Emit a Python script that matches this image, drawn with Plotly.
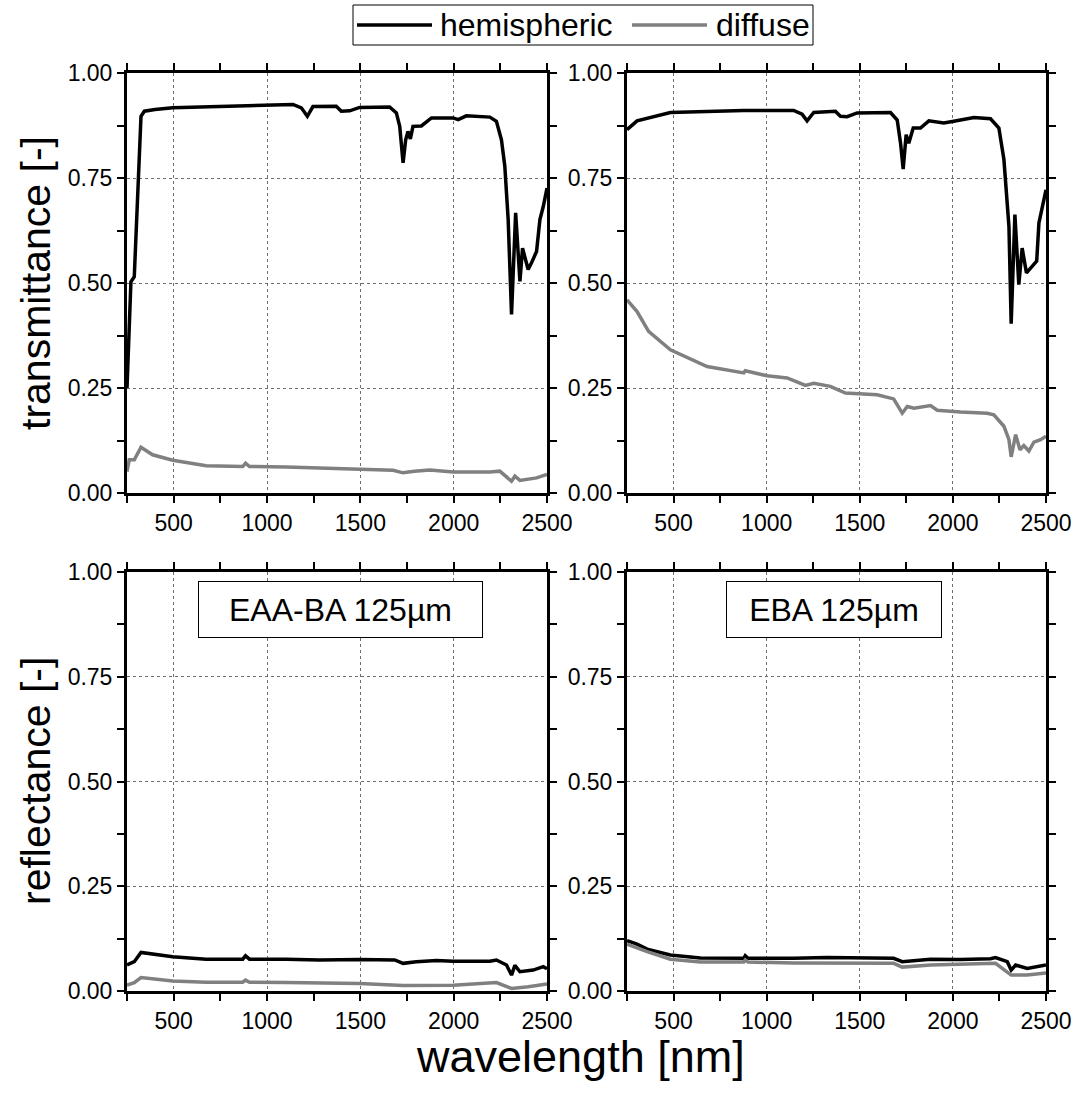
import plotly.graph_objects as go

# ---------------- data ----------------
# EAA-BA 125um, transmittance
wl_T1_hemi = [250, 271, 289, 325, 343, 400, 495, 700, 996, 1139, 1184, 1216, 1246, 1371, 1398, 1443, 1496,
              1657, 1693, 1711, 1729, 1743, 1755, 1768, 1782, 1827, 1881, 1997, 2024, 2068, 2194, 2229,
              2256, 2274, 2292, 2310, 2332, 2355, 2369, 2380, 2399, 2417, 2444, 2462, 2480, 2500]
T1_hemi = [0.25, 0.503, 0.515, 0.897, 0.909, 0.913, 0.917, 0.919, 0.922, 0.925, 0.917, 0.897, 0.920, 0.921,
           0.909, 0.910, 0.918, 0.919, 0.905, 0.873, 0.786, 0.841, 0.861, 0.843, 0.873, 0.874, 0.893, 0.893,
           0.889, 0.898, 0.895, 0.885, 0.841, 0.778, 0.651, 0.425, 0.667, 0.504, 0.583, 0.565, 0.532, 0.548,
           0.575, 0.651, 0.682, 0.726]
wl_T1_diff = [250, 262, 289, 325, 387, 495, 674, 870, 885, 906, 1103, 1282, 1496, 1675, 1729, 1790, 1872,
              1997, 2194, 2247, 2310, 2328, 2355, 2400, 2444, 2500]
T1_diff = [0.051, 0.079, 0.079, 0.109, 0.091, 0.078, 0.065, 0.063, 0.071, 0.063, 0.062, 0.059, 0.055, 0.054,
           0.048, 0.052, 0.055, 0.050, 0.050, 0.052, 0.028, 0.040, 0.030, 0.034, 0.036, 0.044]

# EBA 125um, transmittance
wl_T2_hemi = [250, 304, 483, 877, 1145, 1190, 1217, 1253, 1369, 1396, 1432, 1486, 1665, 1701, 1719, 1733,
              1749, 1763, 1787, 1826, 1871, 1951, 2005, 2113, 2202, 2247, 2274, 2301, 2313, 2333, 2354, 2372,
              2395, 2435, 2450, 2462, 2480, 2500]
T2_hemi = [0.865, 0.886, 0.906, 0.911, 0.911, 0.902, 0.886, 0.906, 0.909, 0.897, 0.896, 0.905, 0.906, 0.888,
           0.833, 0.771, 0.853, 0.833, 0.869, 0.869, 0.886, 0.881, 0.885, 0.894, 0.891, 0.869, 0.794, 0.635,
           0.403, 0.663, 0.496, 0.583, 0.524, 0.545, 0.552, 0.643, 0.682, 0.722]
wl_T2_diff = [250, 304, 366, 483, 680, 877, 885, 1002, 1110, 1208, 1253, 1342, 1423, 1593, 1682, 1728, 1755,
              1791, 1880, 1916, 2041, 2184, 2220, 2274, 2301, 2313, 2337, 2360, 2381, 2408, 2435, 2471, 2500]
T2_diff = [0.460, 0.432, 0.385, 0.341, 0.301, 0.286, 0.291, 0.279, 0.274, 0.256, 0.261, 0.254, 0.238, 0.234,
           0.224, 0.190, 0.206, 0.202, 0.208, 0.197, 0.193, 0.190, 0.186, 0.159, 0.127, 0.086, 0.139, 0.103,
           0.113, 0.100, 0.121, 0.127, 0.135]

# EAA-BA 125um, reflectance
wl_R1_hemi = [250, 270, 289, 325, 495, 674, 870, 885, 906, 1103, 1282, 1496, 1684, 1729, 1800, 1908, 1997,
              2194, 2229, 2283, 2310, 2328, 2355, 2426, 2480, 2500]
R1_hemi = [0.062, 0.066, 0.070, 0.092, 0.082, 0.076, 0.076, 0.084, 0.076, 0.076, 0.074, 0.075, 0.074, 0.066,
           0.070, 0.073, 0.071, 0.071, 0.074, 0.062, 0.038, 0.061, 0.046, 0.050, 0.058, 0.053]
wl_R1_diff = [250, 289, 325, 495, 674, 870, 885, 906, 1103, 1496, 1729, 1997, 2229, 2310, 2400, 2500]
R1_diff = [0.014, 0.020, 0.032, 0.024, 0.021, 0.021, 0.026, 0.021, 0.020, 0.018, 0.013, 0.014, 0.020, 0.006,
           0.010, 0.017]

# EBA 125um, reflectance
wl_R2_hemi = [250, 304, 358, 483, 644, 877, 885, 900, 1145, 1324, 1682, 1728, 1880, 2041, 2202, 2229, 2292,
              2313, 2337, 2399, 2500]
R2_hemi = [0.120, 0.112, 0.100, 0.086, 0.079, 0.078, 0.084, 0.078, 0.078, 0.080, 0.078, 0.070, 0.076, 0.075,
           0.077, 0.080, 0.070, 0.050, 0.062, 0.054, 0.062]
wl_R2_diff = [250, 358, 483, 644, 877, 885, 900, 1145, 1682, 1728, 1880, 2202, 2229, 2313, 2399, 2500]
R2_diff = [0.112, 0.094, 0.076, 0.069, 0.069, 0.074, 0.069, 0.067, 0.066, 0.057, 0.062, 0.067, 0.066, 0.038,
           0.038, 0.043]

x_ticks = [500, 1000, 1500, 2000, 2500]
y_ticks = [0.0, 0.25, 0.5, 0.75, 1.0]
y_tick_text = ["0.00", "0.25", "0.50", "0.75", "1.00"]
sample_labels = ["EAA-BA 125µm", "EBA 125µm"]
series_names = ["hemispheric", "diffuse"]
row_titles = ["transmittance [-]", "reflectance [-]"]
x_title = "wavelength [nm]"

# ---------------- figure ----------------
FONT = "Arial, Liberation Sans, sans-serif"
HEMI_COLOR = "#000000"
DIFF_COLOR = "#808080"
LW = 3.5
W, H = 1079, 1101

fig = go.Figure()

panels = [
    ("x", "y", wl_T1_hemi, T1_hemi, wl_T1_diff, T1_diff),
    ("x2", "y2", wl_T2_hemi, T2_hemi, wl_T2_diff, T2_diff),
    ("x3", "y3", wl_R1_hemi, R1_hemi, wl_R1_diff, R1_diff),
    ("x4", "y4", wl_R2_hemi, R2_hemi, wl_R2_diff, R2_diff),
]
for i, (xa, ya, xh, yh, xd, yd) in enumerate(panels):
    fig.add_trace(go.Scatter(x=xh, y=yh, mode="lines", xaxis=xa, yaxis=ya,
                             line=dict(color=HEMI_COLOR, width=LW),
                             name=series_names[0], showlegend=False))
    fig.add_trace(go.Scatter(x=xd, y=yd, mode="lines", xaxis=xa, yaxis=ya,
                             line=dict(color=DIFF_COLOR, width=LW),
                             name=series_names[1], showlegend=False))

xdom = [[127 / W, 547 / W], [627 / W, 1046 / W]]
ydom_top = [1 - 493 / H, 1 - 73 / H]
ydom_bot = [1 - 991 / H, 1 - 572 / H]

def xaxis_cfg(dom, anchor):
    return dict(domain=dom, anchor=anchor, range=[250, 2500], tickvals=x_ticks,
                ticks="outside", ticklen=7, tickwidth=2, tickcolor="black",
                showline=True, linecolor="black", linewidth=3, mirror="allticks",
                showgrid=True, gridcolor="#6e6e6e", griddash="dot", gridwidth=1,
                zeroline=False, automargin=False,
                tickfont=dict(family=FONT, size=23, color="black"),
                minor=dict(tickvals=[250, 750, 1250, 1750, 2250], ticks="outside", ticklen=7,
                           tickwidth=2, tickcolor="black", showgrid=False))

def yaxis_cfg(dom, anchor):
    return dict(domain=dom, anchor=anchor, range=[0, 1], tickvals=y_ticks, ticktext=y_tick_text,
                ticks="outside", ticklen=7, tickwidth=2, tickcolor="black",
                showline=True, linecolor="black", linewidth=3, mirror="allticks",
                showgrid=True, gridcolor="#6e6e6e", griddash="dot", gridwidth=1,
                zeroline=False, automargin=False,
                tickfont=dict(family=FONT, size=23, color="black"),
                minor=dict(tickvals=[0.125, 0.375, 0.625, 0.875], ticks="outside", ticklen=7,
                           tickwidth=2, tickcolor="black", showgrid=False))

fig.update_layout(
    width=W, height=H,
    margin=dict(l=0, r=0, t=0, b=0, autoexpand=False),
    paper_bgcolor="white", plot_bgcolor="white",
    font=dict(family=FONT, color="black"),
    showlegend=False,
    xaxis=xaxis_cfg(xdom[0], "y"), yaxis=yaxis_cfg(ydom_top, "x"),
    xaxis2=xaxis_cfg(xdom[1], "y2"), yaxis2=yaxis_cfg(ydom_top, "x2"),
    xaxis3=xaxis_cfg(xdom[0], "y3"), yaxis3=yaxis_cfg(ydom_bot, "x3"),
    xaxis4=xaxis_cfg(xdom[1], "y4"), yaxis4=yaxis_cfg(ydom_bot, "x4"),
)

def px(xp):
    return xp / W

def py(yp):
    return 1 - yp / H

# legend (drawn as a boxed key at the top)
shapes = [
    dict(type="rect", xref="paper", yref="paper", x0=px(353), x1=px(813), y0=py(45), y1=py(5),
         line=dict(color="black", width=1), fillcolor="white", layer="above"),
    dict(type="line", xref="paper", yref="paper", x0=px(357), x1=px(432), y0=py(25), y1=py(25),
         line=dict(color=HEMI_COLOR, width=LW), layer="above"),
    dict(type="line", xref="paper", yref="paper", x0=px(632), x1=px(707), y0=py(25), y1=py(25),
         line=dict(color=DIFF_COLOR, width=LW), layer="above"),
]

annotations = [
    dict(text=series_names[0], x=px(438), y=py(25), xref="paper", yref="paper", xanchor="left",
         yanchor="middle", showarrow=False, font=dict(family=FONT, size=32, color="black")),
    dict(text=series_names[1], x=px(714), y=py(25), xref="paper", yref="paper", xanchor="left",
         yanchor="middle", showarrow=False, font=dict(family=FONT, size=32, color="black")),
    dict(text=sample_labels[0], x=px(340), y=py(609), xref="paper", yref="paper",
         xanchor="center", yanchor="middle", showarrow=False,
         font=dict(family=FONT, size=32, color="black"),
         width=281, height=53, bordercolor="black", borderwidth=1, bgcolor="white"),
    dict(text=sample_labels[1], x=px(834), y=py(609), xref="paper", yref="paper",
         xanchor="center", yanchor="middle", showarrow=False,
         font=dict(family=FONT, size=32, color="black"),
         width=212, height=53, bordercolor="black", borderwidth=1, bgcolor="white"),
    dict(text=row_titles[0], x=px(36), y=py(283), xref="paper", yref="paper",
         xanchor="center", yanchor="middle", showarrow=False, textangle=-90,
         font=dict(family=FONT, size=41, color="black")),
    dict(text=row_titles[1], x=px(36), y=py(781), xref="paper", yref="paper",
         xanchor="center", yanchor="middle", showarrow=False, textangle=-90,
         font=dict(family=FONT, size=41, color="black")),
    dict(text=x_title, x=px(580), y=py(1056), xref="paper", yref="paper",
         xanchor="center", yanchor="middle", showarrow=False,
         font=dict(family=FONT, size=45, color="black")),
]
fig.update_layout(shapes=shapes, annotations=annotations)

fig.write_html("out.html")
